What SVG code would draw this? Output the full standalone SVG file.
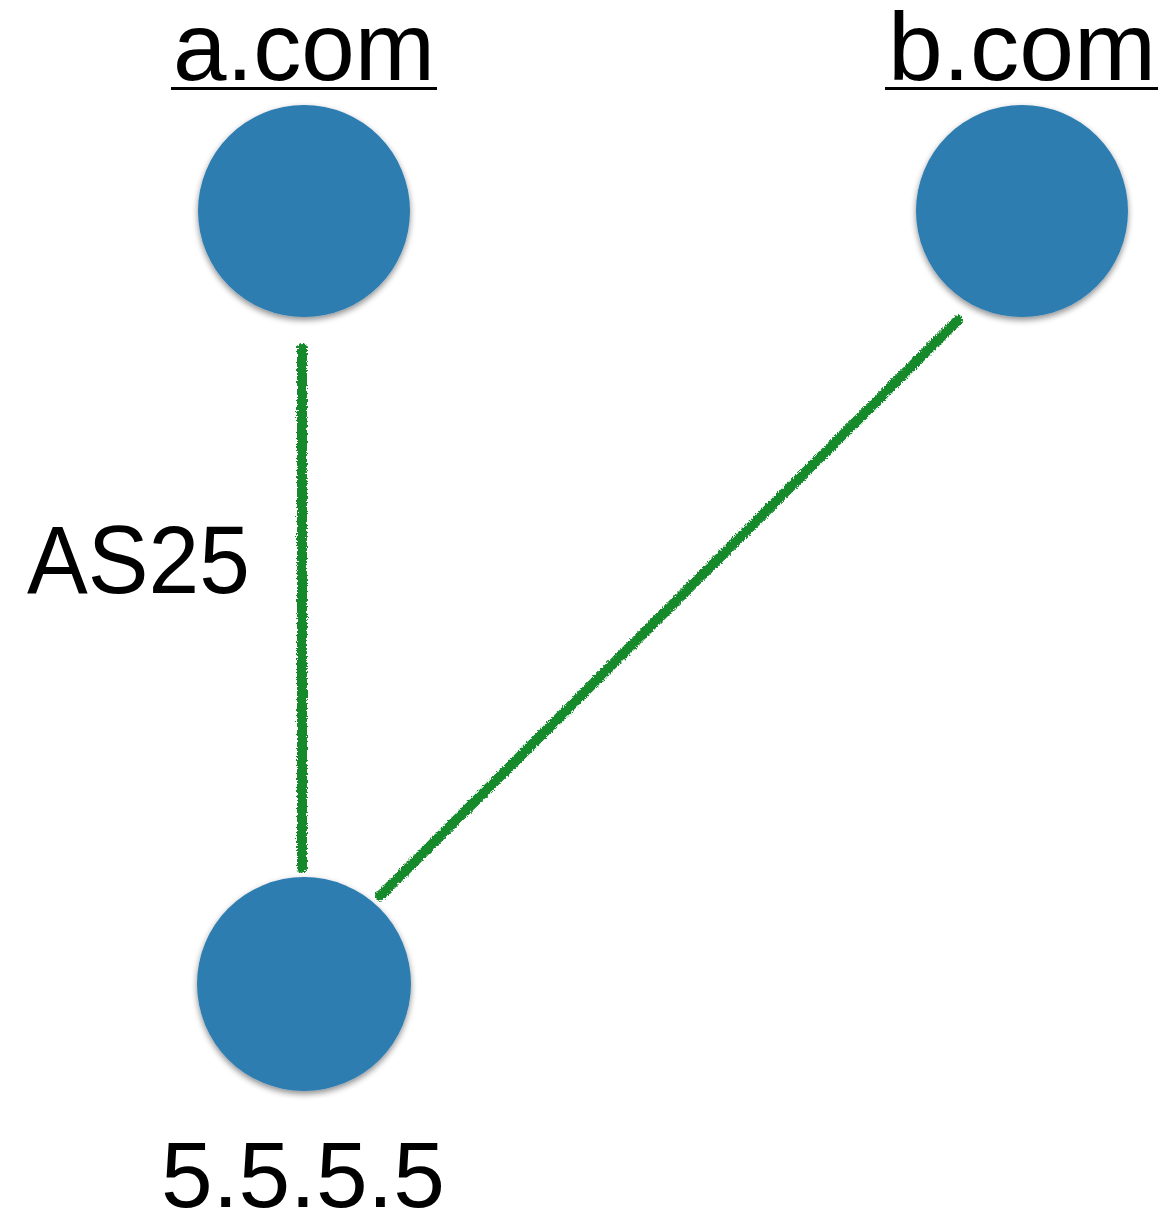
<svg xmlns="http://www.w3.org/2000/svg" width="1165" height="1214" viewBox="0 0 1165 1214">
  <defs>
    <filter id="shadow" x="-20%" y="-20%" width="140%" height="145%">
      <feGaussianBlur in="SourceAlpha" stdDeviation="3"/>
      <feOffset dx="0" dy="3" result="b"/>
      <feComponentTransfer><feFuncA type="linear" slope="0.45"/></feComponentTransfer>
      <feMerge><feMergeNode/><feMergeNode in="SourceGraphic"/></feMerge>
    </filter>
    <filter id="crayon" x="-5%" y="-5%" width="110%" height="110%">
      <feTurbulence type="fractalNoise" baseFrequency="0.6" numOctaves="2" seed="3" result="n"/>
      <feDisplacementMap in="SourceGraphic" in2="n" scale="5" xChannelSelector="R" yChannelSelector="G"/>
    </filter>
  </defs>
  <style>
    .node { fill: #2e7db1; filter: url(#shadow); }
    .edge { stroke: #128a2c; stroke-width: 10; stroke-linecap: round; fill: none; }
    .label { font-family: "Liberation Sans", Arial, Helvetica, sans-serif; fill: #000; }
    .ul { stroke: #000; stroke-width: 3; }
  </style>
  <rect width="1165" height="1214" fill="#ffffff"/>
  <g id="connectors" filter="url(#crayon)">
    <line class="edge" x1="302" y1="348" x2="302" y2="868"/>
    <line class="edge" x1="958" y1="320" x2="380" y2="896"/>
  </g>
  <g id="node-a">
    <circle class="node" cx="304" cy="211" r="106"/>
    <text class="label" x="304" y="80" font-size="96" text-anchor="middle" textLength="262" lengthAdjust="spacingAndGlyphs">a.com</text>
    <line class="ul" x1="171" y1="88.5" x2="437" y2="88.5"/>
  </g>
  <g id="node-b">
    <circle class="node" cx="1022" cy="211" r="106"/>
    <text class="label" x="1022" y="80" font-size="96" text-anchor="middle" textLength="268" lengthAdjust="spacingAndGlyphs">b.com</text>
    <line class="ul" x1="885" y1="88.5" x2="1158" y2="88.5"/>
  </g>
  <g id="node-ip">
    <circle class="node" cx="304" cy="984" r="107"/>
    <text class="label" x="303" y="1207" font-size="93" text-anchor="middle" textLength="284" lengthAdjust="spacingAndGlyphs">5.5.5.5</text>
  </g>
  <g id="edge-label">
    <text class="label" x="27" y="593" font-size="96" textLength="223" lengthAdjust="spacingAndGlyphs">AS25</text>
  </g>
</svg>
